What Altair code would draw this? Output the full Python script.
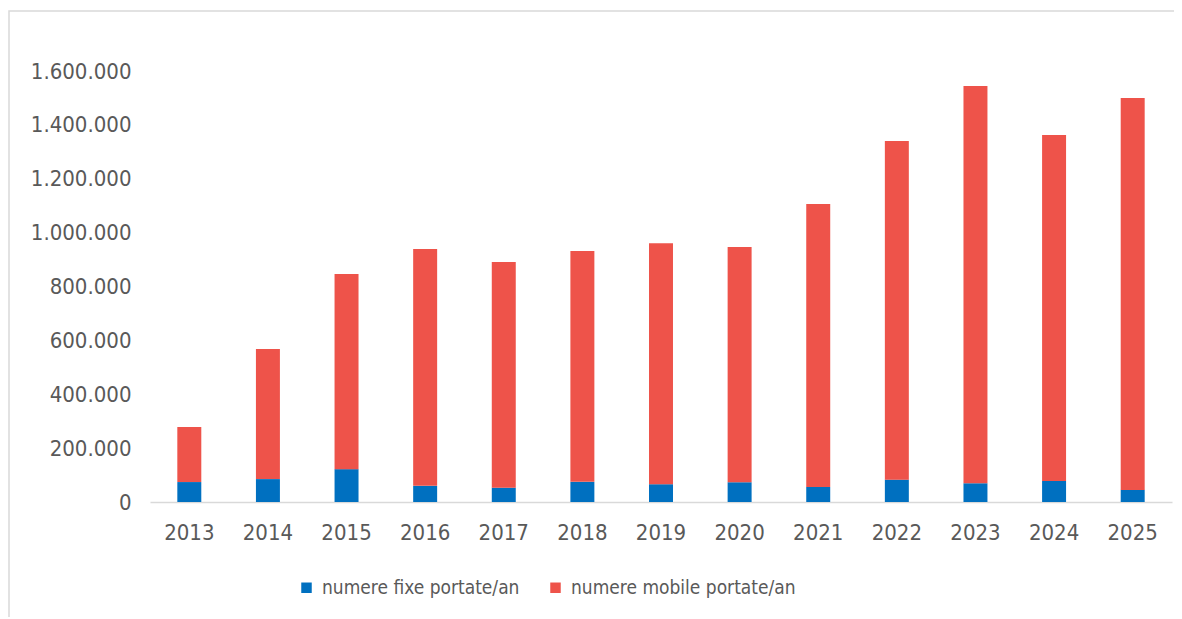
import altair as alt
import pandas as pd

years = ["2013", "2014", "2015", "2016", "2017", "2018", "2019",
         "2020", "2021", "2022", "2023", "2024", "2025"]
fixe = [74000, 85000, 122000, 60000, 53000, 75000, 66000,
        73000, 56000, 83000, 70000, 78000, 45000]
total = [278000, 568000, 846000, 939000, 891000, 932000, 961000,
         947000, 1106000, 1340000, 1544000, 1362000, 1500000]
mobile = [t - f for t, f in zip(total, fixe)]

series = ["numere fixe portate/an", "numere mobile portate/an"]
colors = ["#0070C0", "#EE534A"]

rows = []
for y, f, m in zip(years, fixe, mobile):
    rows.append({"an": y, "serie": series[0], "valoare": f, "ord": 0})
    rows.append({"an": y, "serie": series[1], "valoare": m, "ord": 1})
df = pd.DataFrame(rows)

W, H = 1022, 431
FONT = "DejaVu Sans Condensed"
GREY = "#595959"
FS = 22

bars = alt.Chart(df).mark_bar().encode(
    x=alt.X("an:N", sort=years, title=None,
            scale=alt.Scale(paddingInner=0.695, paddingOuter=0.3475),
            axis=alt.Axis(labelAngle=0, ticks=False, domainColor="#d9d9d9",
                          domainWidth=1.5, labelPadding=20, labelFontSize=FS,
                          labelColor=GREY, labelFont=FONT)),
    y=alt.Y("valoare:Q", stack="zero", title=None,
            scale=alt.Scale(domain=[0, 1600000]),
            axis=alt.Axis(values=[0, 200000, 400000, 600000, 800000, 1000000,
                                  1200000, 1400000, 1600000],
                          format=",d", grid=False, ticks=False, domain=False,
                          labelPadding=19, labelFontSize=FS, labelColor=GREY,
                          labelFont=FONT)),
    color=alt.Color("serie:N", sort=series,
                    scale=alt.Scale(domain=series, range=colors),
                    legend=alt.Legend(title=None, orient="none", legendX=147,
                                      legendY=507, direction="horizontal",
                                      columns=2, columnPadding=26,
                                      symbolType="square", symbolSize=110,
                                      symbolStrokeWidth=0, labelFontSize=19,
                                      labelColor=GREY, labelFont=FONT,
                                      labelOffset=6, labelLimit=400)),
    order=alt.Order("ord:Q"),
)

border = alt.Chart(pd.DataFrame({"k": [0]})).mark_rect(
    fill=None, stroke="#d9d9d9", strokeWidth=1.5
).encode(
    x=alt.value(-141), x2=alt.value(W + 200),
    y=alt.value(-60), y2=alt.value(H + 300),
)

chart = alt.layer(border, bars).properties(
    width=W, height=H,
    autosize=alt.AutoSizeParams(type="none"),
    padding={"left": 142, "top": 63, "right": 2, "bottom": 115},
).configure(
    locale={"number": {"decimal": ",", "thousands": ".", "grouping": [3],
                       "currency": ["", " lei"]}},
    view=alt.ViewConfig(stroke=None),
)

chart.save("out.html", embed_options={"renderer": "svg", "actions": False})
